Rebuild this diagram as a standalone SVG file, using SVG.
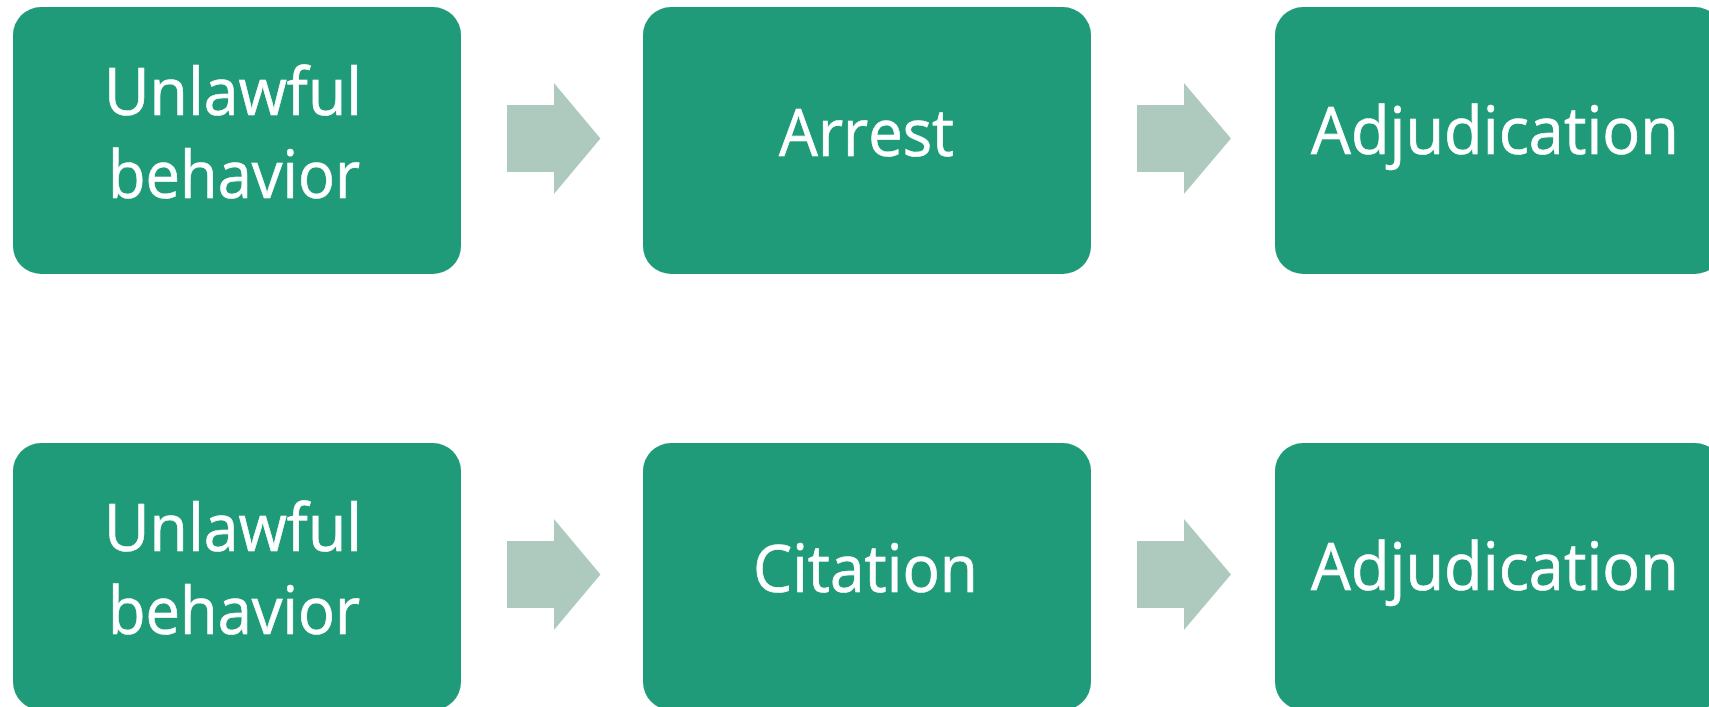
<svg xmlns="http://www.w3.org/2000/svg" width="1709" height="707" viewBox="0 0 1709 707">
<style>
.box{fill:#1F9B7A;}
.arr{fill:#AECABE;}
.t{font-family:"Open Sans","Liberation Sans",sans-serif;font-size:66px;fill:#FFFFFF;stroke:#FFFFFF;stroke-width:0.7px;}
</style>
<rect width="1709" height="707" fill="#FFFFFF"/>
<g id="connectors">
<polygon class="arr" points="507,105 554,105 554,83 600.5,138.5 554,194 554,172 507,172"/>
<polygon class="arr" points="1137,105 1184,105 1184,83 1231,138.5 1184,194 1184,172 1137,172"/>
<polygon class="arr" points="507,541 554,541 554,519 600.5,574.5 554,630 554,608 507,608"/>
<polygon class="arr" points="1137,541 1184,541 1184,519 1231,574.5 1184,630 1184,608 1137,608"/>
</g>
<g id="n1">
<rect class="box" x="13" y="7" width="448" height="267" rx="28"/>
<text class="t" x="104" y="115" textLength="258" lengthAdjust="spacingAndGlyphs">Unlawful</text>
<text class="t" x="108" y="198" textLength="252" lengthAdjust="spacingAndGlyphs">behavior</text>
</g>
<g id="n2">
<rect class="box" x="643" y="7" width="448" height="267" rx="28"/>
<text class="t" x="779" y="156" textLength="175" lengthAdjust="spacingAndGlyphs">Arrest</text>
</g>
<g id="n3">
<rect class="box" x="1275" y="7" width="448" height="267" rx="28"/>
<text class="t" x="1311" y="154" textLength="368" lengthAdjust="spacingAndGlyphs">Adjudication</text>
</g>
<g id="n4">
<rect class="box" x="13" y="443" width="448" height="267" rx="28"/>
<text class="t" x="104" y="551" textLength="258" lengthAdjust="spacingAndGlyphs">Unlawful</text>
<text class="t" x="108" y="634" textLength="252" lengthAdjust="spacingAndGlyphs">behavior</text>
</g>
<g id="n5">
<rect class="box" x="643" y="443" width="448" height="267" rx="28"/>
<text class="t" x="753" y="592" textLength="225" lengthAdjust="spacingAndGlyphs">Citation</text>
</g>
<g id="n6">
<rect class="box" x="1275" y="443" width="448" height="267" rx="28"/>
<text class="t" x="1311" y="590" textLength="368" lengthAdjust="spacingAndGlyphs">Adjudication</text>
</g>
</svg>
